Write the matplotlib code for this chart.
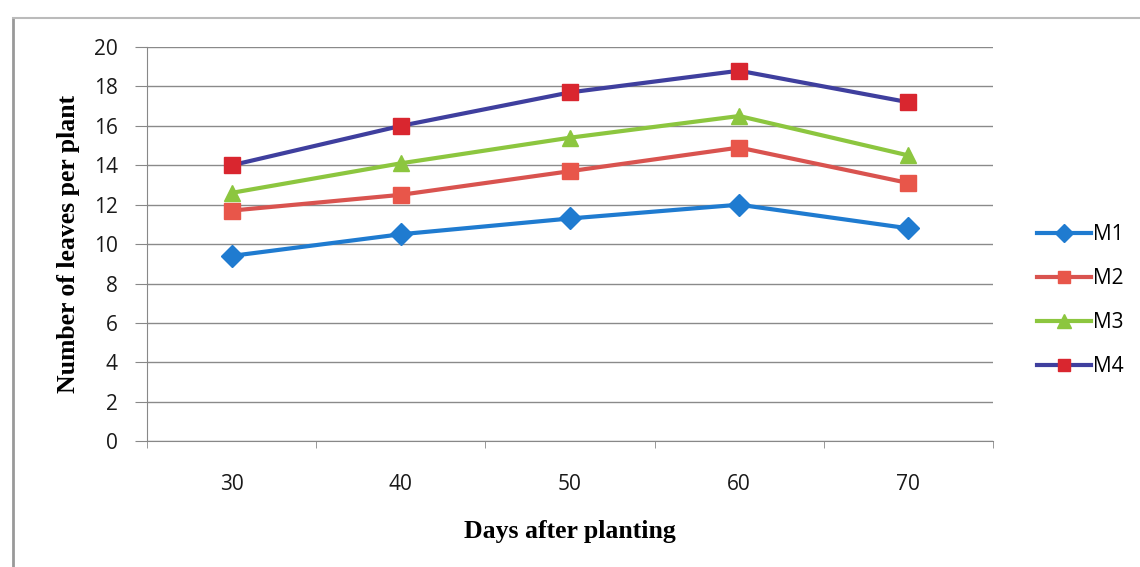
import matplotlib.pyplot as plt
from matplotlib.lines import Line2D

days = ["30", "40", "50", "60", "70"]
m1 = [9.4, 10.5, 11.3, 12.0, 10.8]
m2 = [11.7, 12.5, 13.7, 14.9, 13.1]
m3 = [12.6, 14.1, 15.4, 16.5, 14.5]
m4 = [14.0, 16.0, 17.7, 18.8, 17.2]

series = [
    ("M1", m1, "#1f7bd0", "#1f7bd0", "D", 11),
    ("M2", m2, "#d9534f", "#e8564a", "s", 11),
    ("M3", m3, "#8cc63f", "#8cc63f", "^", 12),
    ("M4", m4, "#3f3f9e", "#d9262f", "s", 11),
]

fig = plt.figure(figsize=(11.4, 5.67), dpi=100)
ax = fig.add_axes([0.129, 0.222, 0.742, 0.695])

x = list(range(len(days)))
for name, vals, lc, mc, mk, ms in series:
    ax.plot(x, vals, color=lc, lw=3, marker=mk, markersize=ms,
            markerfacecolor=mc, markeredgecolor=mc, label=name)

ax.set_xlim(-0.5, len(days) - 0.5)
ax.set_ylim(0, 20)
ax.set_yticks(range(0, 21, 2))
ax.set_xticks(x)
ax.set_xticklabels(days)
ax.set_xticks([i + 0.5 for i in range(-1, len(days))], minor=True)
ax.tick_params(axis="x", which="major", length=0, pad=24)
ax.tick_params(axis="x", which="minor", length=5, color="#888888")
ax.tick_params(axis="y", length=9, color="#888888", pad=12)
for lab in ax.get_xticklabels() + ax.get_yticklabels():
    lab.set_fontfamily("Open Sans")
    lab.set_fontsize(15)
    lab.set_color("#1a1a1a")

ax.grid(axis="y", color="#8a8a8a", lw=1)
ax.set_axisbelow(True)
for side in ["top", "right"]:
    ax.spines[side].set_visible(False)
ax.spines["left"].set_color("#888888")
ax.spines["bottom"].set_color("#888888")

ax.set_xlabel("Days after planting", fontfamily="Liberation Serif",
              fontweight="bold", fontsize=18.5, labelpad=18)
ax.set_ylabel("Number of leaves per plant", fontfamily="Liberation Serif",
              fontweight="bold", fontsize=18.5, labelpad=10)

leg = fig.legend(loc="center left", bbox_to_anchor=(0.893, 0.47), frameon=False,
                 prop={"family": "Open Sans", "size": 15}, handlelength=2.6,
                 handletextpad=0.1, labelspacing=1.1, markerscale=0.8)

# outer chart frame (left and top edges)
fig.add_artist(Line2D([0.011, 0.011], [0.0, 0.968], color="#999999", lw=2))
fig.add_artist(Line2D([0.011, 1.0], [0.968, 0.968], color="#bbbbbb", lw=1.5))

fig.savefig("out.png", dpi=100)
